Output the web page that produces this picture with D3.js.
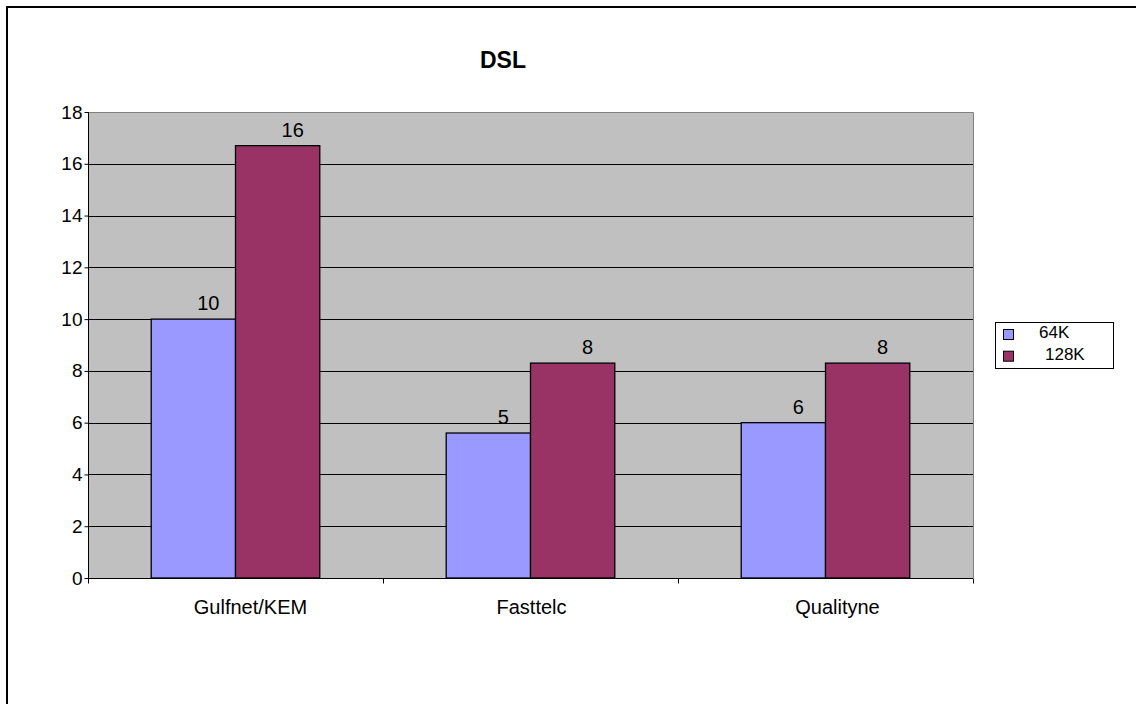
<!DOCTYPE html>
<html>
<head>
<meta charset="utf-8">
<script src="https://cdn.jsdelivr.net/npm/d3@7"></script>
<style>
  html, body { margin: 0; padding: 0; background: #fff; }
  svg { display: block; font-family: "Liberation Sans", Arial, sans-serif; }
</style>
</head>
<body>
<svg id="chart" width="1136" height="704"></svg>
<script>
// ---- data ----
const title = "DSL";
const categories = ["Gulfnet/KEM", "Fasttelc", "Qualityne"];
const seriesNames = ["64K", "128K"];
const values64K = [10, 5.6, 6];
const values128K = [16.7, 8.3, 8.3];
const labels64K = ["10", "5", "6"];
const labels128K = ["16", "8", "8"];
const yTicks = [0, 2, 4, 6, 8, 10, 12, 14, 16, 18];
const seriesColors = ["#9999FF", "#993366"];

const seriesValues = [values64K, values128K];
const seriesLabels = [labels64K, labels128K];

// ---- layout ----
const svg = d3.select("#chart");
const plot = { left: 88, right: 973, top: 112, bottom: 578 };
const catLabelShift = [15, 1, 12];

// outer frame (extends past right / bottom edge)
svg.append("rect")
  .attr("x", 7).attr("y", 7)
  .attr("width", 1160).attr("height", 730)
  .attr("fill", "#fff").attr("stroke", "#000").attr("stroke-width", 2);

const x0 = d3.scaleBand().domain(categories).range([plot.left, plot.right]).padding(0);
const x1 = d3.scaleBand().domain(seriesNames).range([0, x0.bandwidth()])
  .paddingInner(0).paddingOuter(0.75);
const y = d3.scaleLinear().domain([0, 18]).range([plot.bottom, plot.top]);

// plot background
svg.append("rect")
  .attr("x", plot.left).attr("y", plot.top)
  .attr("width", plot.right - plot.left).attr("height", plot.bottom - plot.top)
  .attr("fill", "#C0C0C0");

// gridlines
svg.append("g").selectAll("line")
  .data(yTicks.filter(t => t > 0 && t < 18))
  .join("line")
  .attr("x1", plot.left).attr("x2", plot.right)
  .attr("y1", d => Math.round(y(d)) + 0.5).attr("y2", d => Math.round(y(d)) + 0.5)
  .attr("stroke", "#000").attr("stroke-width", 1);

// top and right plot border (gray)
svg.append("path")
  .attr("d", `M${plot.left},${plot.top + 0.5}H${plot.right + 0.5}V${plot.bottom}`)
  .attr("fill", "none").attr("stroke", "#808080").attr("stroke-width", 1);

// bars
const groups = svg.append("g").selectAll("g")
  .data(categories)
  .join("g")
  .attr("transform", d => `translate(${x0(d)},0)`);

groups.selectAll("rect")
  .data((c, i) => seriesNames.map((s, j) => ({ s, j, v: seriesValues[j][i], lab: seriesLabels[j][i] })))
  .join("rect")
  .attr("x", d => x1(d.s))
  .attr("y", d => y(d.v))
  .attr("width", x1.bandwidth())
  .attr("height", d => y(0) - y(d.v))
  .attr("fill", d => seriesColors[d.j])
  .attr("stroke", "#000").attr("stroke-width", 1.3);

// data labels
groups.selectAll("text")
  .data((c, i) => seriesNames.map((s, j) => ({ s, j, v: seriesValues[j][i], lab: seriesLabels[j][i] })))
  .join("text")
  .attr("x", d => x1(d.s) + x1.bandwidth() / 2 + 15)
  .attr("y", d => y(d.v) - 9)
  .attr("text-anchor", "middle")
  .attr("font-size", 20)
  .attr("fill", "#000")
  .text(d => d.lab);

// y axis
const yAxis = d3.axisLeft(y).tickValues(yTicks).tickSize(4).tickPadding(2).tickFormat(d3.format("d"));
const gy = svg.append("g").attr("transform", `translate(${plot.left + 0.5},0)`).call(yAxis);
gy.select(".domain").attr("stroke", "#000").attr("d", `M0,${plot.top}V${plot.bottom}`);
gy.selectAll(".tick line").attr("stroke", "#000");
gy.selectAll(".tick text").attr("font-size", 19).attr("font-family", "Liberation Sans, Arial, sans-serif").attr("fill", "#000");

// x axis
const xAxis = d3.axisBottom(x0).tickSize(0).tickPadding(0);
const gx = svg.append("g").attr("transform", `translate(0,${plot.bottom + 0.5})`).call(xAxis);
gx.select(".domain").attr("stroke", "#000").attr("d", `M${plot.left},0H${plot.right}`);
gx.selectAll(".tick text")
  .attr("font-size", 20).attr("font-family", "Liberation Sans, Arial, sans-serif").attr("fill", "#000")
  .attr("dy", 0).attr("y", 35)
  .attr("x", (d, i) => catLabelShift[i]);

// x axis boundary tick marks
const bounds = categories.map(c => x0(c)).concat([plot.right]);
gx.selectAll(".bound")
  .data(bounds)
  .join("line")
  .attr("class", "bound")
  .attr("x1", d => Math.round(d) + 0.5).attr("x2", d => Math.round(d) + 0.5)
  .attr("y1", 0).attr("y2", 5)
  .attr("stroke", "#000");

// title
svg.append("text")
  .attr("x", 503).attr("y", 68)
  .attr("text-anchor", "middle")
  .attr("font-size", 23).attr("font-weight", "bold")
  .text(title);

// legend
const legend = svg.append("g");
legend.append("rect")
  .attr("x", 995.5).attr("y", 322.5).attr("width", 118).attr("height", 46)
  .attr("fill", "#fff").attr("stroke", "#000").attr("stroke-width", 1);
const items = legend.selectAll("g.item")
  .data(seriesNames)
  .join("g").attr("class", "item");
items.append("rect")
  .attr("x", 1003.5).attr("y", (d, i) => 329.5 + i * 21.7)
  .attr("width", 10).attr("height", 10)
  .attr("fill", (d, i) => seriesColors[i]).attr("stroke", "#000").attr("stroke-width", 1);
items.append("text")
  .attr("x", (d, i) => 1039 + i * 6)
  .attr("y", (d, i) => 338 + i * 21.7)
  .attr("font-size", 17)
  .text(d => d);
</script>
</body>
</html>
